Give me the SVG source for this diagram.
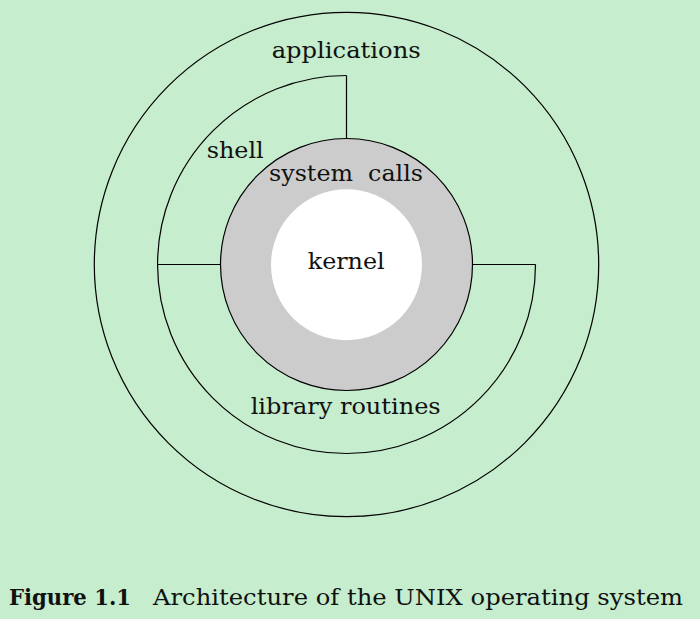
<svg xmlns="http://www.w3.org/2000/svg" width="700" height="619" viewBox="0 0 700 619">
<style>
.t{font-family:"DejaVu Serif","Liberation Serif",serif;font-size:23px;fill:#111;white-space:pre}
.ln{fill:none;stroke:#000;stroke-width:1.2}
.cap{font-family:"DejaVu Serif","Liberation Serif",serif;font-size:23px;fill:#111;white-space:pre}
</style>
<rect width="700" height="619" fill="#c6edcd"/>
<g id="applications">
<circle cx="346.5" cy="264.5" r="252.2" class="ln"/>
<text class="t" x="271.7" y="58" textLength="149" lengthAdjust="spacingAndGlyphs">applications</text>
</g>
<g id="shell-library">
<path class="ln" d="M346.5,75.5 A189,189 0 0 0 346.5,453.5 A189,189 0 0 0 535.5,264.5"/>
<text class="t" x="206.7" y="158.3" textLength="57" lengthAdjust="spacingAndGlyphs">shell</text>
<text class="t" x="250.7" y="414" textLength="190" lengthAdjust="spacingAndGlyphs">library routines</text>
</g>
<g id="system-calls">
<circle cx="346.5" cy="264.5" r="126" fill="#cccccc" stroke="#000" stroke-width="1.2"/>
<text class="t" x="269" y="180.7" textLength="154" lengthAdjust="spacingAndGlyphs">system  calls</text>
</g>
<g id="kernel">
<circle cx="346.5" cy="264.8" r="75.5" fill="#ffffff"/>
<text class="t" x="307.7" y="269.3" textLength="77" lengthAdjust="spacingAndGlyphs">kernel</text>
</g>
<g id="connectors">
<line class="ln" x1="346.5" y1="75.5" x2="346.5" y2="138.5"/>
<line class="ln" x1="157.5" y1="264.5" x2="220.5" y2="264.5"/>
<line class="ln" x1="472.5" y1="264.5" x2="535.5" y2="264.5"/>
</g>
<g id="caption">
<text class="cap" x="9" y="605" font-weight="bold" textLength="122" lengthAdjust="spacingAndGlyphs">Figure 1.1</text>
<text class="cap" x="153" y="605" textLength="530" lengthAdjust="spacingAndGlyphs">Architecture of the UNIX operating system</text>
</g>
</svg>
